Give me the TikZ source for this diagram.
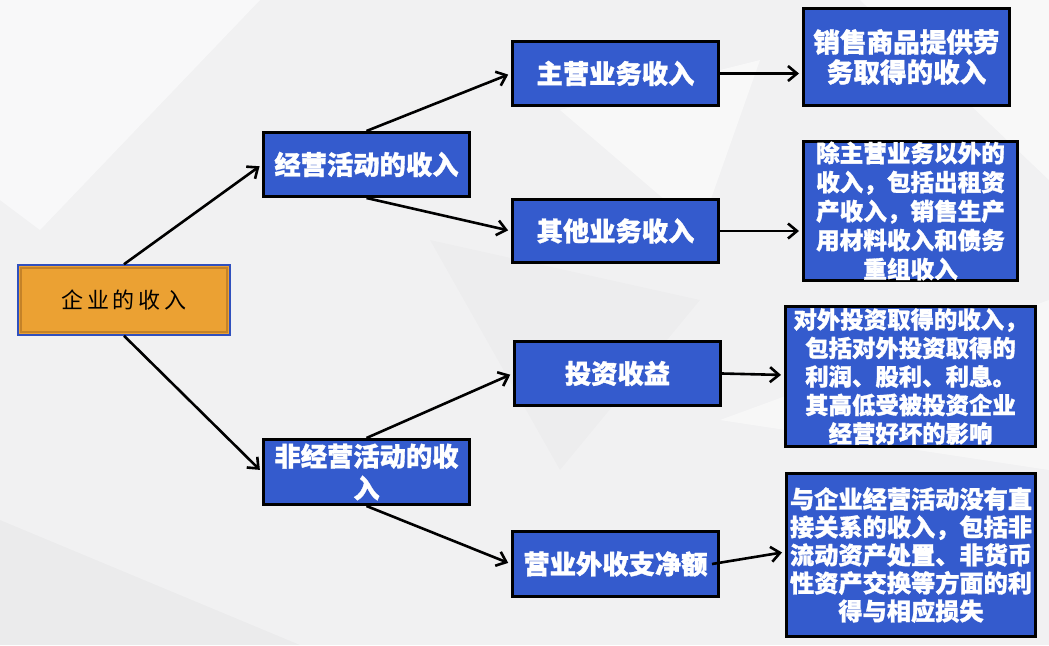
\documentclass[tikz,border=0pt]{standalone}
\usepackage{fontspec}
\usetikzlibrary{arrows.meta}
\newfontfamily\cjk{Noto Sans CJK SC}[BoldFeatures={FakeBold=1.2}]
\newfontfamily\song{Noto Sans CJK SC}
\definecolor{boxblue}{RGB}{52,91,205}
\definecolor{rootorange}{RGB}{235,161,51}
\definecolor{rootedge}{RGB}{196,130,40}
\definecolor{rootblue}{RGB}{48,80,190}
\definecolor{bggray}{RGB}{241,241,242}
\begin{document}
\begin{tikzpicture}[x=1pt,y=-1pt,
  bluebox/.style={draw=black, line width=3pt, fill=boxblue, text=white,
    font=\cjk\bfseries\fontsize{26.3}{30}\selectfont, align=center, inner sep=0pt},
  rootbox/.style={draw=rootblue, line width=1.5pt, fill=rootorange, text=black,
    font=\song\fontsize{22}{26}\selectfont, inner sep=0pt},
  conn/.style={-{Straight Barb[length=9pt,width=15pt]}, line width=2.6pt, black, shorten >=3pt}
]
% background
\fill[bggray] (0,0) rectangle (1049,645);
\useasboundingbox (0,0) rectangle (1049,645);
\fill[white, opacity=0.55] (0,0) -- (260,0) -- (40,230) -- (0,200) -- cycle;
\fill[white, opacity=0.5] (560,110) -- (760,60) -- (700,230) -- cycle;
\fill[white, opacity=0.45] (720,420) -- (1049,300) -- (1049,470) -- cycle;
\fill[black, opacity=0.015] (430,240) -- (700,300) -- (560,470) -- cycle;
\fill[black, opacity=0.025] (0,520) -- (300,645) -- (0,645) -- cycle;
\fill[white, opacity=0.5] (860,0) -- (1049,0) -- (1049,180) -- cycle;

% nodes
\node[rootbox, minimum width=212pt, minimum height=70pt] (root) at (124,300) {企\,业\,的\,收\,入};
\draw[rootedge, line width=2pt] ([shift={(3.5pt,-3.5pt)}]root.north west) rectangle ([shift={(-3.5pt,3.5pt)}]root.south east);

\node[bluebox, minimum width=206pt, minimum height=64pt] (jy) at (366.5,164.5) {经营活动的收入};
\node[bluebox, minimum width=206pt, minimum height=64pt] (zy) at (615.5,73.5) {主营业务收入};
\node[bluebox, minimum width=206pt, minimum height=63pt] (qt) at (615.5,231) {其他业务收入};
\node[bluebox, minimum width=206pt, minimum height=97pt, font=\cjk\bfseries\fontsize{26.6}{30}\selectfont] (xs) at (906.5,57) {销售商品提供劳\\务取得的收入};
\node[bluebox, minimum width=214pt, minimum height=139pt, font=\cjk\bfseries\fontsize{23.6}{29}\selectfont] (cz) at (910.5,211) {除主营业务以外的\\收入，包括出租资\\产收入，销售生产\\用材料收入和债务\\重组收入};
\node[bluebox, minimum width=206pt, minimum height=65pt, font=\cjk\bfseries\fontsize{26.3}{32}\selectfont] (fjy) at (366.5,472) {非经营活动的收\\入};
\node[bluebox, minimum width=206pt, minimum height=64pt] (tz) at (617.5,373.5) {投资收益};
\node[bluebox, minimum width=206pt, minimum height=65pt] (yy) at (615.5,564) {营业外收支净额};
\node[bluebox, minimum width=250pt, minimum height=140pt, font=\cjk\bfseries\fontsize{23.4}{28.5}\selectfont] (dw) at (910.5,376.5) {对外投资取得的收入，\\包括对外投资取得的\\利润、股利、利息。\\其高低受被投资企业\\经营好坏的影响};
\node[bluebox, minimum width=249pt, minimum height=163pt, font=\cjk\bfseries\fontsize{24.2}{28}\selectfont] (yq) at (911,555) {与企业经营活动没有直\\接关系的收入，包括非\\流动资产处置、非货币\\性资产交换等方面的利\\得与相应损失};

% connectors
\draw[conn] (root.north) -- (jy.west);
\draw[conn] (root.south) -- (fjy.west);
\draw[conn] (jy.north) -- (zy.west);
\draw[conn] (jy.south) -- (qt.west);
\draw[conn] (fjy.north) -- (tz.west);
\draw[conn] (fjy.south) -- (yy.west);
\draw[conn] (zy.east) -- (xs.west |- zy.east);
\draw[conn] (qt.east) -- (cz.west |- qt.east);
\draw[conn] (tz.east) -- ([yshift=1.5pt]dw.west);
\draw[conn] ([xshift=-8pt]yy.east) -- ([yshift=3pt]yq.west);
\end{tikzpicture}
\end{document}
